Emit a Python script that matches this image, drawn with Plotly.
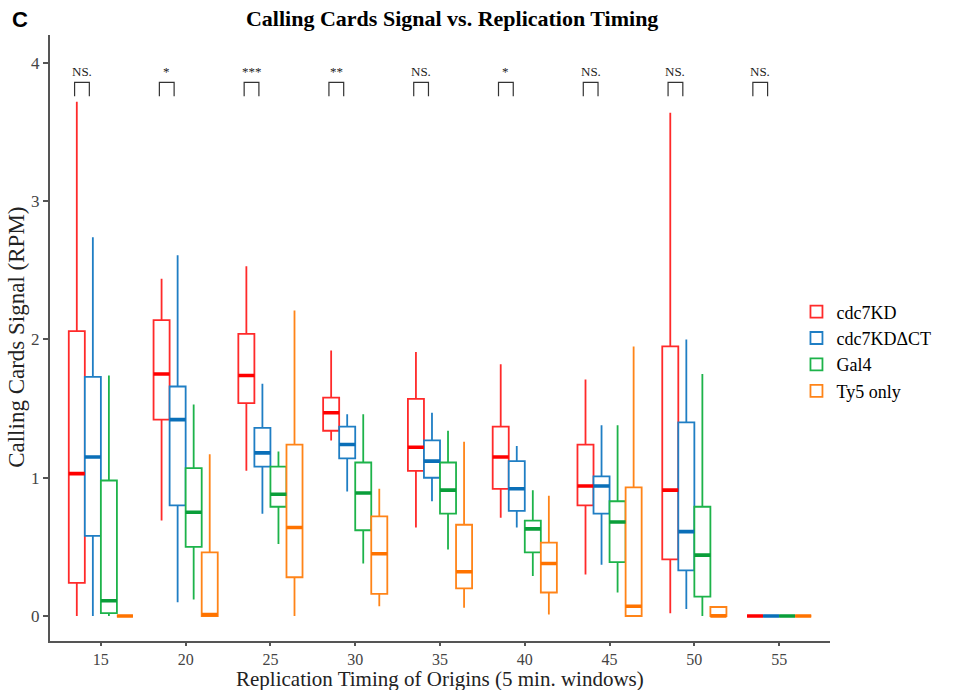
import plotly.graph_objects as go

# ---------------- data ----------------
timing = [15, 20, 25, 30, 35, 40, 45, 50, 55]
x_ticks = [15, 20, 25, 30, 35, 40, 45, 50, 55]
y_ticks = [0, 1, 2, 3, 4]
series_names = ["cdc7KD", "cdc7KD\u0394CT", "Gal4", "Ty5 only"]

cdc7kd_low = [0.00, 0.69, 1.05, 1.27, 0.64, 0.71, 0.30, 0.02, 0.0]
cdc7kd_q1 = [0.24, 1.42, 1.54, 1.34, 1.05, 0.92, 0.80, 0.41, 0.0]
cdc7kd_med = [1.03, 1.75, 1.74, 1.47, 1.22, 1.15, 0.94, 0.91, 0.0]
cdc7kd_q3 = [2.06, 2.14, 2.04, 1.58, 1.57, 1.37, 1.24, 1.95, 0.0]
cdc7kd_up = [3.72, 2.44, 2.53, 1.92, 1.91, 1.82, 1.71, 3.64, 0.0]

dct_low = [0.00, 0.10, 0.74, 0.90, 0.83, 0.64, 0.37, 0.05, 0.0]
dct_q1 = [0.58, 0.80, 1.08, 1.14, 1.00, 0.76, 0.74, 0.33, 0.0]
dct_med = [1.15, 1.42, 1.18, 1.24, 1.12, 0.92, 0.94, 0.61, 0.0]
dct_q3 = [1.73, 1.66, 1.36, 1.37, 1.27, 1.12, 1.01, 1.40, 0.0]
dct_up = [2.74, 2.61, 1.68, 1.46, 1.47, 1.23, 1.38, 2.00, 0.0]

gal4_low = [0.00, 0.12, 0.52, 0.38, 0.48, 0.29, 0.17, 0.00, 0.0]
gal4_q1 = [0.02, 0.50, 0.79, 0.62, 0.74, 0.46, 0.39, 0.14, 0.0]
gal4_med = [0.11, 0.75, 0.88, 0.89, 0.91, 0.63, 0.68, 0.44, 0.0]
gal4_q3 = [0.98, 1.07, 1.08, 1.11, 1.11, 0.69, 0.83, 0.79, 0.0]
gal4_up = [1.74, 1.53, 1.19, 1.46, 1.34, 0.91, 1.38, 1.75, 0.0]

ty5_low = [0.00, 0.00, 0.00, 0.07, 0.06, 0.01, 0.00, 0.00, 0.0]
ty5_q1 = [0.00, 0.00, 0.28, 0.16, 0.20, 0.17, 0.00, 0.00, 0.0]
ty5_med = [0.00, 0.01, 0.64, 0.45, 0.32, 0.38, 0.07, 0.00, 0.0]
ty5_q3 = [0.00, 0.46, 1.24, 0.72, 0.66, 0.53, 0.93, 0.065, 0.0]
ty5_up = [0.00, 1.17, 2.21, 0.92, 1.26, 0.87, 1.95, 0.065, 0.0]

signif = ["NS.", "*", "***", "**", "NS.", "*", "NS.", "NS.", "NS."]

colors = ["#FF2A2A", "#1F7EC4", "#1DB34A", "#FF8418"]
median_colors = ["#FF0000", "#0A6FB8", "#0A9E3A", "#FF7300"]

stats = [
    (cdc7kd_low, cdc7kd_q1, cdc7kd_med, cdc7kd_q3, cdc7kd_up),
    (dct_low, dct_q1, dct_med, dct_q3, dct_up),
    (gal4_low, gal4_q1, gal4_med, gal4_q3, gal4_up),
    (ty5_low, ty5_q1, ty5_med, ty5_q3, ty5_up),
]

serif = "Liberation Serif, Times New Roman, serif"

fig = go.Figure()
for i, (name, col, (lo, q1, me, q3, up)) in enumerate(zip(series_names, colors, stats)):
    fig.add_trace(go.Box(
        name=name, x=timing, lowerfence=lo, q1=q1, median=me, q3=q3, upperfence=up,
        line=dict(color=col, width=1.8), fillcolor="white", whiskerwidth=0,
        boxpoints=False, offsetgroup=f"g{i}", legendgroup=f"g{i}",
    ))
# thicker median bars, drawn from the same median arrays in the same offset slots
for i, (name, col, (lo, q1, me, q3, up)) in enumerate(zip(series_names, median_colors, stats)):
    fig.add_trace(go.Box(
        name=name, x=timing, lowerfence=me, q1=me, median=me, q3=me, upperfence=me,
        line=dict(color=col, width=3.6), fillcolor=col, whiskerwidth=0,
        boxpoints=False, offsetgroup=f"g{i}", legendgroup=f"g{i}", showlegend=False,
        hoverinfo="skip",
    ))

# significance brackets
br_top, br_bot = 3.86, 3.76
shapes = []
annotations = []
for t, s in zip(timing, signif):
    x0, x1 = t - 1.55, t - 0.68
    shapes.append(dict(type="path", xref="x", yref="y",
                       path=f"M {x0},{br_bot} L {x0},{br_top} L {x1},{br_top} L {x1},{br_bot}",
                       line=dict(color="#333333", width=1.2)))
    annotations.append(dict(x=(x0 + x1) / 2, y=3.87, xref="x", yref="y", text=s,
                            showarrow=False, yanchor="bottom",
                            font=dict(family=serif, size=13, color="#222222")))

annotations.append(dict(x=-0.038, y=1.0248, xref="paper", yref="paper", text="<b>C</b>",
                        showarrow=False, xanchor="center", yanchor="middle",
                        font=dict(family="Liberation Sans, Arial, sans-serif", size=22, color="black")))
# axis titles
annotations.append(dict(x=0.5, y=-0.0627, xref="paper", yref="paper",
                        text="Replication Timing of Origins (5 min. windows)",
                        showarrow=False, xanchor="center", yanchor="middle",
                        font=dict(family=serif, size=21, color="#222222")))
annotations.append(dict(x=-0.0425, y=0.5017, xref="paper", yref="paper",
                        text="Calling Cards Signal (RPM)", textangle=-90,
                        showarrow=False, xanchor="center", yanchor="middle",
                        font=dict(family=serif, size=23, color="#222222")))

fig.update_layout(
    width=956, height=690,
    margin=dict(l=50, r=126, t=35, b=49, autoexpand=False),
    paper_bgcolor="white", plot_bgcolor="white",
    boxmode="group", boxgap=0.243, boxgroupgap=0.0,
    title=dict(text="<b>Calling Cards Signal vs. Replication Timing</b>",
               x=0.473, xref="container", y=0.974, yref="container",
               xanchor="center", yanchor="middle",
               font=dict(family=serif, size=22, color="black")),
    legend=dict(x=0.957, y=0.5736, xanchor="left", yanchor="top",
                font=dict(family=serif, size=18, color="black"),
                bgcolor="rgba(0,0,0,0)", tracegroupgap=0),
    shapes=shapes, annotations=annotations,
    showlegend=True,
)
fig.update_xaxes(range=[12, 58], tickvals=x_ticks, ticktext=[str(v) for v in x_ticks],
                 automargin=False,
                 showgrid=False, zeroline=False, showline=True, linecolor="#555555", linewidth=2,
                 ticks="outside", ticklen=3, tickcolor="#555555", tickwidth=1.5,
                 tickfont=dict(family=serif, size=16, color="#444444"))
fig.update_yaxes(range=[-0.181, 4.2025], tickvals=y_ticks, ticktext=[str(v) for v in y_ticks],
                 automargin=False,
                 showgrid=False, zeroline=False, showline=True, linecolor="#555555", linewidth=2,
                 ticks="outside", ticklen=5, tickcolor="#555555", tickwidth=1.5,
                 tickfont=dict(family=serif, size=17, color="#444444"))

fig.write_html("out.html")
